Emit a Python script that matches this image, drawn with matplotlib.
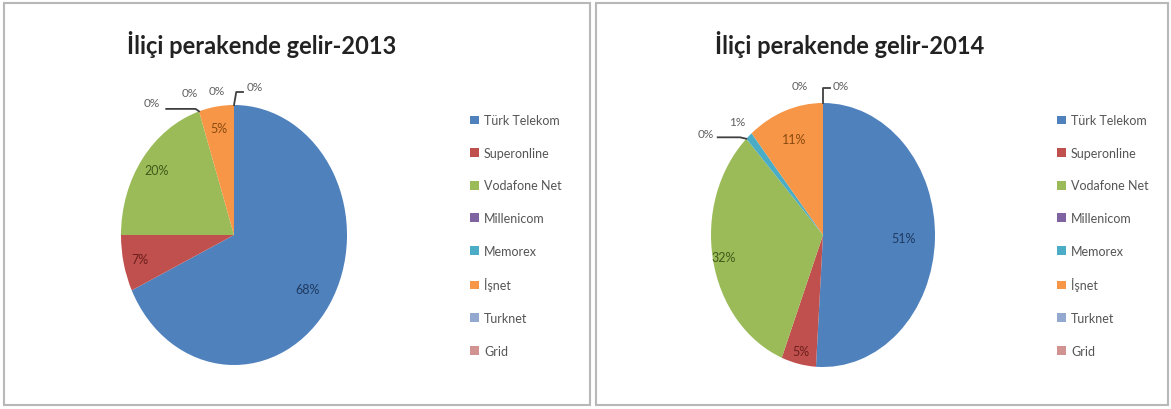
import numpy as np
import matplotlib
matplotlib.use('Agg')
import matplotlib.pyplot as plt
from matplotlib.patches import Rectangle, Patch

# data
sirketler = ['Türk Telekom', 'Superonline', 'Vodafone Net', 'Millenicom',
             'Memorex', 'İşnet', 'Turknet', 'Grid']
gelir_2013 = [68, 7, 20, 0, 0, 5, 0, 0]
gelir_2014 = [51, 5, 32, 0, 1, 11, 0, 0]
basliklar = ['İliçi perakende gelir-2013', 'İliçi perakende gelir-2014']

renkler = ['#4F81BD', '#C0504D', '#9BBB59', '#8064A2',
           '#4BACC6', '#F79646', '#93A9CF', '#D19392']
koyu = ['#1F3A60', '#6B1F1D', '#3F5A1A', '#3A2A55',
        '#1B5A6B', '#8A4A10', '#44546A', '#6B3A3A']

W, H = 1171, 410
plt.rcParams['font.family'] = ['Lato', 'DejaVu Sans']
fig = plt.figure(figsize=(W / 100, H / 100), dpi=100)

def px_ax(cx, cy, rx, ry):
    return [(cx - rx) / W, 1 - (cy + ry) / H, 2 * rx / W, 2 * ry / H]

# panel frames
for x0, x1 in [(4, 590), (596, 1168)]:
    fig.add_artist(Rectangle((x0 / W, 4 / H), (x1 - x0) / W, (H - 8) / H,
                             transform=fig.transFigure, fill=False,
                             edgecolor='#B8B8B8', lw=1.5))

# per-chart label settings: inside distance for nonzero, or outside text pos
panels = [
    dict(vals=gelir_2013, cx=234, cy=236, rx=113, ry=130, leg=(459, 104),
         title_x=262,
         inside={0: 0.77, 1: 0.85, 2: 0.85, 5: 0.83},
         outside={3: (-0.73, 1.02), 4: (-0.39, 1.10), 6: (-0.15, 1.11), 7: (0.18, 1.14)},
         leaders={3: [(-0.60, 0.97), (-0.34, 0.97)], 7: [(0.02, 1.10), (0.08, 1.10)]}),
    dict(vals=gelir_2014, cx=823, cy=236, rx=112, ry=132, leg=(1046, 104),
         title_x=850,
         inside={0: 0.72, 1: 0.9, 2: 0.9, 5: 0.77},
         outside={3: (-1.05, 0.77), 4: (-0.77, 0.86), 6: (-0.21, 1.13), 7: (0.16, 1.13)},
         leaders={3: [(-0.94, 0.74), (-0.74, 0.74)], 7: [(0.0, 1.11), (0.06, 1.11)]}),
]

for p, baslik in zip(panels, basliklar):
    ax = fig.add_axes(px_ax(p['cx'], p['cy'], p['rx'], p['ry']))
    vals = np.array(p['vals'], dtype=float)
    ax.pie(vals, colors=renkler, startangle=90, counterclock=False,
           radius=1, wedgeprops=dict(linewidth=0))
    ax.set_aspect('auto')
    ax.set_xlim(-1, 1)
    ax.set_ylim(-1, 1)
    ax.set_autoscale_on(False)
    cum = np.concatenate([[0], np.cumsum(vals)]) / vals.sum()
    # leader lines for the zero slices
    for i, yol in p['leaders'].items():
        edge = np.deg2rad(90 - cum[i] * 360)
        kenar = (float(np.cos(edge)), float(np.sin(edge)))
        pts = [kenar] + yol if i == 7 else yol + [kenar]
        ax.plot([q[0] for q in pts], [q[1] for q in pts], color='#404040',
                lw=1.3, clip_on=False, zorder=5)
    for i, v in enumerate(vals):
        lab = '%d%%' % v
        if i in p['inside']:
            mid = np.deg2rad(90 - (cum[i] + cum[i + 1]) / 2 * 360)
            r = p['inside'][i]
            ax.text(r * np.cos(mid), r * np.sin(mid), lab, ha='center', va='center',
                    fontsize=9, color=koyu[i])
        else:
            tx, ty = p['outside'][i]
            ax.text(tx, ty, lab, ha='center', va='center', fontsize=8.5,
                    color='#606060', clip_on=False)
    fig.text(p['title_x'] / W, 1 - 45 / H, baslik, ha='center', va='center',
             fontsize=17, fontweight='bold', color='#222222')
    handles = [Patch(facecolor=c, edgecolor='none') for c in renkler]
    fig.legend(handles, sirketler, loc='upper left',
               bbox_to_anchor=(p['leg'][0] / W, 1 - p['leg'][1] / H),
               frameon=False, fontsize=9, labelspacing=1.65,
               handlelength=0.7, handleheight=0.7, handletextpad=0.4,
               labelcolor='#555555')

fig.savefig('out.png', dpi=100)
